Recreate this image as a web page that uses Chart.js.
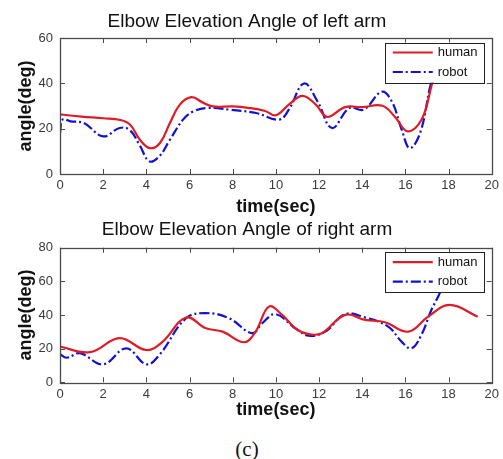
<!DOCTYPE html>
<html>
<head>
<meta charset="utf-8">
<script src="https://cdn.jsdelivr.net/npm/chart.js@4/dist/chart.umd.min.js"></script>
<style>
  html, body { margin: 0; padding: 0; background: #fff; }
  body { width: 503px; height: 459px; position: relative; overflow: hidden; }
  .wrap { position: absolute; left: 0; width: 503px; }
  #capt { position: absolute; left: 0; width: 494px; top: 437px; text-align: center;
          font-family: "Liberation Serif", "DejaVu Serif", serif; font-size: 21px; color: #111; }
</style>
</head>
<body>
<div class="wrap" style="top:0;height:218px"><canvas id="c1" width="503" height="218"></canvas></div>
<div class="wrap" style="top:218px;height:207px"><canvas id="c2" width="503" height="207"></canvas></div>
<div id="capt">(c)</div>
<script>
// ---------- data ----------
const titleLeft = "Elbow Elevation Angle of left arm";
const titleRight = "Elbow Elevation Angle of right arm";
const xLabel = "time(sec)";
const yLabel = "angle(deg)";
const seriesNames = ["human", "robot"];
const xTicks = [0, 2, 4, 6, 8, 10, 12, 14, 16, 18, 20];
const yTicksLeft = [0, 20, 40, 60];
const yTicksRight = [0, 20, 40, 60, 80];

const leftHumanT = [0, 1, 2, 2.8, 3.25, 3.7, 4.17, 4.63, 5.09, 5.55, 6.09, 6.6, 7.08, 8, 8.78, 9.5, 10, 10.6, 11.23, 11.85, 12.38, 13.2, 14, 14.93, 15.5, 16.1, 16.75, 17.2, 17.45];
const leftHuman  = [26.3, 25.3, 24.6, 23.8, 21.7, 15.1, 11.4, 13.7, 22.5, 30.6, 33.9, 31.6, 29.8, 29.8, 29.1, 27.8, 25.9, 30.6, 34.5, 30.6, 25.2, 29.5, 29.5, 30.1, 25.4, 18.8, 24, 38.6, 48];
const leftRobotT = [0, 0.12, 0.49, 1.1, 2.0, 2.76, 3.22, 3.68, 4.14, 4.6, 5.09, 5.7, 6.17, 6.78, 7.85, 9.08, 10.15, 10.6, 11.3, 11.93, 12.6, 13.4, 14.07, 14.9, 15.37, 15.83, 16.2, 16.68, 17.13, 17.45];
const leftRobot  = [18, 24, 23.2, 22.5, 16.6, 20.3, 19.5, 12.9, 5.6, 7.8, 15.1, 24, 27.6, 29.1, 28.4, 26.9, 24, 28.4, 39.9, 32, 20.3, 29.1, 28.4, 36.3, 32, 19.5, 11.4, 18.1, 37.9, 50];

const rightHumanT = [0, 1.38, 2.76, 4.0, 4.76, 5.84, 6.76, 7.53, 8.53, 9.06, 9.68, 10.29, 10.9, 11.52, 12.13, 13.21, 14.13, 15.05, 16.13, 17.05, 18.05, 19.35];
const rightHuman  = [21.2, 17.9, 26.2, 19.2, 24.2, 38.5, 32.1, 30.1, 23.8, 30.1, 45, 40.1, 32.1, 28.6, 29.2, 40.1, 37.1, 35.7, 30.1, 39, 46, 39];
const rightRobotT = [0, 0.31, 0.92, 2.0, 3.07, 4.0, 4.6, 5.84, 6.76, 7.83, 8.9, 9.37, 9.98, 10.9, 11.52, 12.29, 13.21, 14.13, 15.2, 15.82, 16.28, 16.74, 17.2, 17.59, 17.8];
const rightRobot  = [16.7, 14.6, 17.3, 10.7, 20.2, 10.7, 16.2, 38.1, 41.1, 38.1, 29.2, 35.1, 40.5, 32.1, 27.7, 30.1, 40.5, 38.5, 33.1, 24.2, 20.2, 28.2, 43, 53, 62];

// ---------- helpers ----------
const pts = (t, v) => t.map((x, i) => ({ x: x, y: v[i] }));
const RED = "rgb(222,28,38)";
const BLUE = "rgb(18,18,205)";
const AXC = "#4a4a4a";

const frameTicks = {
  id: "frameTicks",
  afterDatasetsDraw(chart) {
    const { ctx, chartArea: a, scales: { x, y } } = chart;
    ctx.save();
    ctx.strokeStyle = AXC;
    ctx.lineWidth = 1;
    ctx.beginPath();
    x.ticks.forEach(t => {
      const px = Math.round(x.getPixelForValue(t.value)) + 0.5;
      ctx.moveTo(px, a.bottom); ctx.lineTo(px, a.bottom - 5);
      ctx.moveTo(px, a.top); ctx.lineTo(px, a.top + 5);
    });
    y.ticks.forEach(t => {
      const py = Math.round(y.getPixelForValue(t.value)) + 0.5;
      ctx.moveTo(a.left, py); ctx.lineTo(a.left + 5, py);
      ctx.moveTo(a.right, py); ctx.lineTo(a.right - 5, py);
    });
    ctx.stroke();
    ctx.lineWidth = 1.3;
    ctx.strokeRect(Math.round(a.left) + 0.5, Math.round(a.top) + 0.5, Math.round(a.right - a.left), Math.round(a.bottom - a.top));
    // legend box
    const bx = a.right - 107, by = a.top + 4.5, bw = 99, bh = 40;
    ctx.fillStyle = "#fff";
    ctx.fillRect(bx, by, bw, bh);
    ctx.strokeStyle = "#222";
    ctx.lineWidth = 1;
    ctx.strokeRect(Math.round(bx) + 0.5, Math.round(by) + 0.5, bw, bh);
    chart.data.datasets.forEach((ds, i) => {
      const ly = by + 10 + i * 19.5;
      ctx.beginPath();
      ctx.strokeStyle = ds.borderColor;
      ctx.lineWidth = ds.borderWidth;
      ctx.setLineDash(ds.borderDash || []);
      ctx.moveTo(bx + 8, ly); ctx.lineTo(bx + 48, ly);
      ctx.stroke();
      ctx.setLineDash([]);
      ctx.fillStyle = "#111";
      ctx.font = "13px 'Liberation Sans', Arial, sans-serif";
      ctx.textBaseline = "middle";
      ctx.textAlign = "left";
      ctx.fillText(ds.label, bx + 53, ly);
    });
    ctx.restore();
  }
};

function makeChart(id, title, tHum, vHum, tRob, vRob, yMax, cfg) {
  return new Chart(document.getElementById(id), {
    type: "line",
    data: {
      datasets: [
        { label: seriesNames[0], data: pts(tHum, vHum), borderColor: RED, borderWidth: 2.2,
          pointRadius: 0, tension: 0.4, fill: false },
        { label: seriesNames[1], data: pts(tRob, vRob), borderColor: BLUE, borderWidth: 2.2,
          borderDash: [10, 3, 2, 3], pointRadius: 0, tension: 0.4, fill: false }
      ]
    },
    options: {
      responsive: false,
      animation: false,
      devicePixelRatio: 1,
      layout: { padding: { left: 0, right: 9, top: 0, bottom: 0 } },
      plugins: {
        legend: { display: false },
        tooltip: { enabled: false },
        title: {
          display: true, text: title, color: "#111",
          font: { family: "'Liberation Sans', Arial, sans-serif", size: 19, weight: "normal", lineHeight: 1 },
          padding: { top: cfg.tTop, bottom: cfg.tBot }
        }
      },
      scales: {
        x: {
          type: "linear", min: 0, max: 20,
          afterBuildTicks: s => { s.ticks = xTicks.map(v => ({ value: v })); },
          afterFit: s => { s.height = cfg.xH; },
          grid: { display: false, drawTicks: false },
          border: { display: false },
          ticks: { color: "#3a3a3a", padding: 4, maxRotation: 0,
                   font: { family: "'Liberation Sans', Arial, sans-serif", size: 13 } },
          title: { display: true, text: xLabel, color: "#111",
                   font: { family: "'Liberation Sans', Arial, sans-serif", size: 18, weight: "bold", lineHeight: 1 },
                   padding: { top: 0, bottom: cfg.xTB } }
        },
        y: {
          type: "linear", min: 0, max: yMax,
          afterBuildTicks: s => { s.ticks = cfg.yTicks.map(v => ({ value: v })); },
          afterFit: s => { s.width = 60; },
          grid: { display: false, drawTicks: false },
          border: { display: false },
          ticks: { color: "#3a3a3a", padding: 7,
                   font: { family: "'Liberation Sans', Arial, sans-serif", size: 13 } },
          title: { display: true, text: yLabel, color: "#111",
                   font: { family: "'Liberation Sans', Arial, sans-serif", size: 18, weight: "bold", lineHeight: 1 },
                   padding: { top: 17, bottom: 0 } }
        }
      }
    },
    plugins: [frameTicks]
  });
}

makeChart("c1", titleLeft, leftHumanT, leftHuman, leftRobotT, leftRobot, 60,
  { tTop: 11.8, tBot: 7.2, xH: 44, xTB: 2, yTicks: yTicksLeft });
makeChart("c2", titleRight, rightHumanT, rightHuman, rightRobotT, rightRobot, 80,
  { tTop: 2.5, tBot: 8.2, xH: 42.7, xTB: 6, yTicks: yTicksRight });
</script>
</body>
</html>
